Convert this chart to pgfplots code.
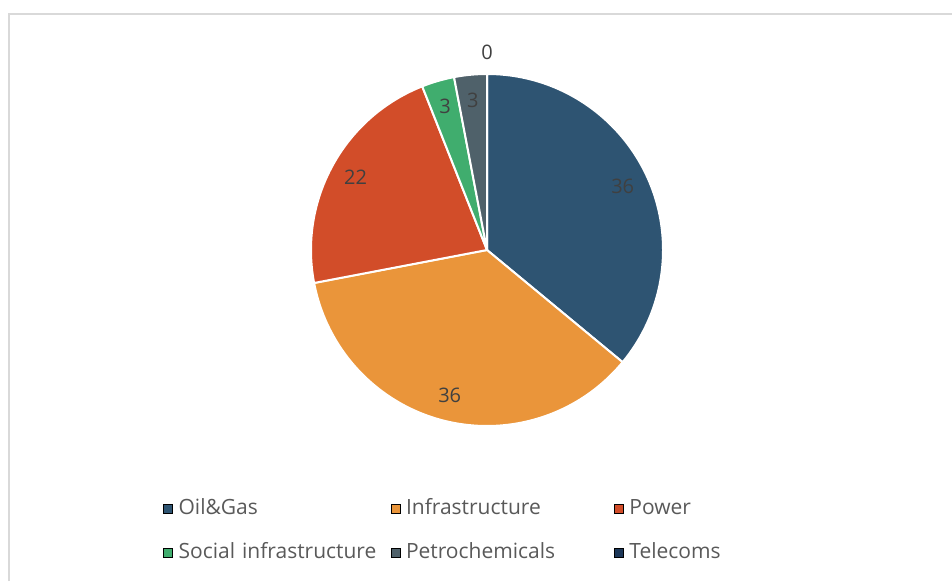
\documentclass[border=0pt]{standalone}
\usepackage{fontspec}
\setmainfont{Open Sans}
\usepackage{pgfplots}
\pgfplotsset{compat=1.18}

\definecolor{cOil}{RGB}{46,84,114}
\definecolor{cInfra}{RGB}{234,149,58}
\definecolor{cPower}{RGB}{210,77,41}
\definecolor{cSocial}{RGB}{64,173,110}
\definecolor{cPetro}{RGB}{79,97,106}
\definecolor{cTele}{RGB}{28,55,88}
\definecolor{lbl}{RGB}{64,64,64}
\definecolor{legtxt}{RGB}{89,89,89}
\definecolor{frame}{RGB}{217,217,217}

% shares (percent)
\def\vOil{36}
\def\vInfra{36}
\def\vPower{22}
\def\vSocial{3}
\def\vPetro{3}
\def\vTele{0}

% cumulative angles, clockwise from the top
\pgfmathsetmacro\aA{90}
\pgfmathsetmacro\aB{\aA-3.6*\vOil}
\pgfmathsetmacro\aC{\aB-3.6*\vInfra}
\pgfmathsetmacro\aD{\aC-3.6*\vPower}
\pgfmathsetmacro\aE{\aD-3.6*\vSocial}
\pgfmathsetmacro\aF{\aE-3.6*\vPetro}
\pgfmathsetmacro\aG{\aF-3.6*\vTele}

% one wedge: start, end, colour, label
\newcommand\slice[4]{%
  \pgfmathsetmacro\mid{(#1+#2)/2}%
  \edef\tmp{\noexpand\filldraw[fill=#3, draw=white, line width=2pt]
    (axis cs:487,331) -- ++(#1:176pt) arc[start angle=#1, end angle=#2, radius=176pt] -- cycle;
    \noexpand\node[text=lbl, font=\noexpand\fontsize{20}{23}\noexpand\selectfont]
    at (axis cs:487,331) [shift={(\mid:150pt)}] {#4};}%
  \tmp}

\pgfplotsset{sq/.style={legend image code/.code={\fill[##1] (0pt,-4.5pt) rectangle (9pt,4.5pt); \path (13pt,0pt);}}}

\begin{document}
\begin{tikzpicture}
\begin{axis}[
  hide axis, scale only axis,
  width=952pt, height=581pt,
  xmin=0, xmax=952, ymin=0, ymax=581,
  clip=false,
  legend columns=3,
  legend style={at={(axis cs:160,50)}, anchor=west, draw=none, fill=none,
    font=\fontsize{21}{24}\selectfont, text=legtxt,
    nodes={inner sep=2pt, text height=15pt, text depth=4pt},
    row sep=21pt, cells={anchor=west}},
]
\draw[frame, line width=1.5pt] (axis cs:9,0) -- (axis cs:9,567) -- (axis cs:952,567);

\slice{\aA}{\aB}{cOil}{\vOil}
\slice{\aB}{\aC}{cInfra}{\vInfra}
\slice{\aC}{\aD}{cPower}{\vPower}
\slice{\aD}{\aE}{cSocial}{\vSocial}
\slice{\aE}{\aF}{cPetro}{\vPetro}
\node[text=lbl, font=\fontsize{20}{23}\selectfont] at (axis cs:487,331) [shift={(\aF:198pt)}] {\vTele};

\addlegendimage{sq, fill=cOil}
\addlegendentry[text width=210pt]{Oil\&Gas}
\addlegendimage{sq, fill=cInfra}
\addlegendentry[text width=206pt]{Infrastructure}
\addlegendimage{sq, fill=cPower}
\addlegendentry[text width=110pt]{Power}
\addlegendimage{sq, fill=cSocial}
\addlegendentry[text width=210pt]{Social infrastructure}
\addlegendimage{sq, fill=cPetro}
\addlegendentry[text width=206pt]{Petrochemicals}
\addlegendimage{sq, fill=cTele}
\addlegendentry[text width=110pt]{Telecoms}
\end{axis}
\pgfresetboundingbox
\path (0,0) rectangle (952pt,581pt);
\end{tikzpicture}
\end{document}
